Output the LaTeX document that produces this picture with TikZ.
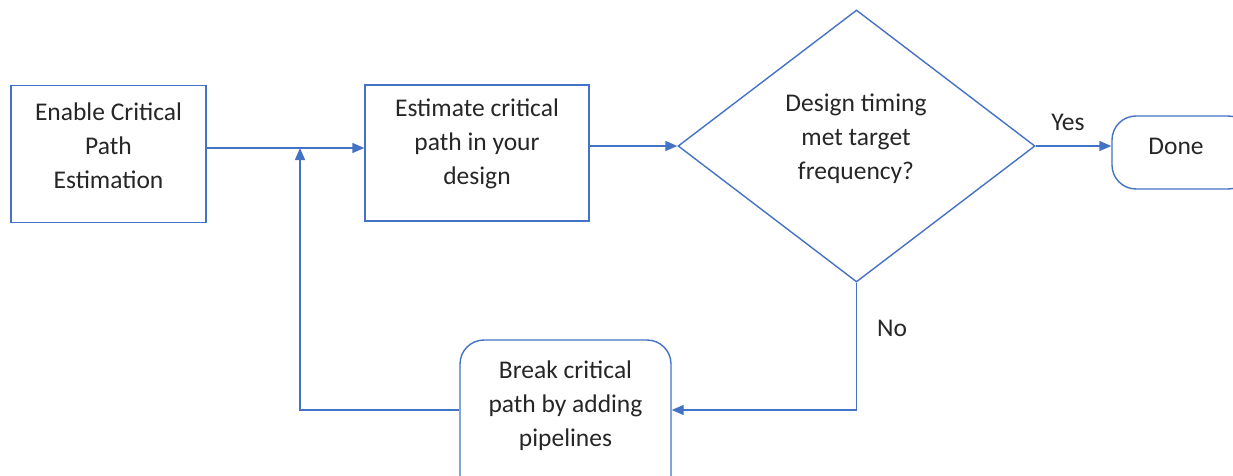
\documentclass[tikz,border=0pt]{standalone}
\usepackage{fontspec}
\setmainfont{Carlito}
\usetikzlibrary{shapes.geometric,arrows.meta}
\definecolor{lineblue}{HTML}{4472C4}
\definecolor{txt}{HTML}{262626}
\tikzset{
  box/.style={draw=lineblue, line width=1.4pt, inner sep=0pt},
  rbox/.style={box, rounded corners=24pt},
  lbl/.style={text=txt, align=center, font=\fontsize{25.5}{34}\selectfont, inner sep=0pt},
  conn/.style={draw=lineblue, line width=1.4pt},
  arr/.style={conn, -{Triangle[length=12pt,width=10pt]}},
}
\begin{document}
\begin{tikzpicture}[x=1pt,y=-1pt]
\useasboundingbox (0,0) rectangle (1233,476);
% boxes
\node[box, minimum width=195pt, minimum height=137pt] (b1) at (108.5,154) {};
\node[lbl] (t1) at (108.5,146) {Enable Critical\\Path\\Estimation};
\node[box, minimum width=224pt, minimum height=136pt] (b2) at (477,153) {};
\node[lbl] (t2) at (477,144) {Estimate critical\\path in your\\design};
\node[box, diamond, minimum width=357pt, minimum height=272pt] (d) at (856.5,146) {};
\node[lbl] (t3) at (856,139) {Design timing\\met target\\frequency?};
\node[rbox, minimum width=140pt, minimum height=73pt] (done) at (1182,152.5) {};
\node[lbl] (t4) at (1176,146) {Done};
\node[rbox, minimum width=211pt, minimum height=160pt] (b3) at (565.5,420) {};
\node[lbl] (t5) at (565.5,406) {Break critical\\path by adding\\pipelines};
% labels
\node[lbl] (yes) at (1068,122) {Yes};
\node[lbl] (no) at (892,328) {No};
% connectors
\coordinate (j1) at (300,148);
\coordinate (c1) at (300,410);
\coordinate (c2) at (856.5,410);
\draw[arr] (b1.east |- j1) -- (b2.west |- j1);
\draw[arr] (b2.east |- d.west) -- (d.west);
\draw[arr] (d.east) -- (done.west |- d.east);
\draw[arr] (d.south) -- (c2) -- (b3.east |- c2);
\draw[arr] (b3.west |- c1) -- (c1) -- (j1);
\end{tikzpicture}
\end{document}
